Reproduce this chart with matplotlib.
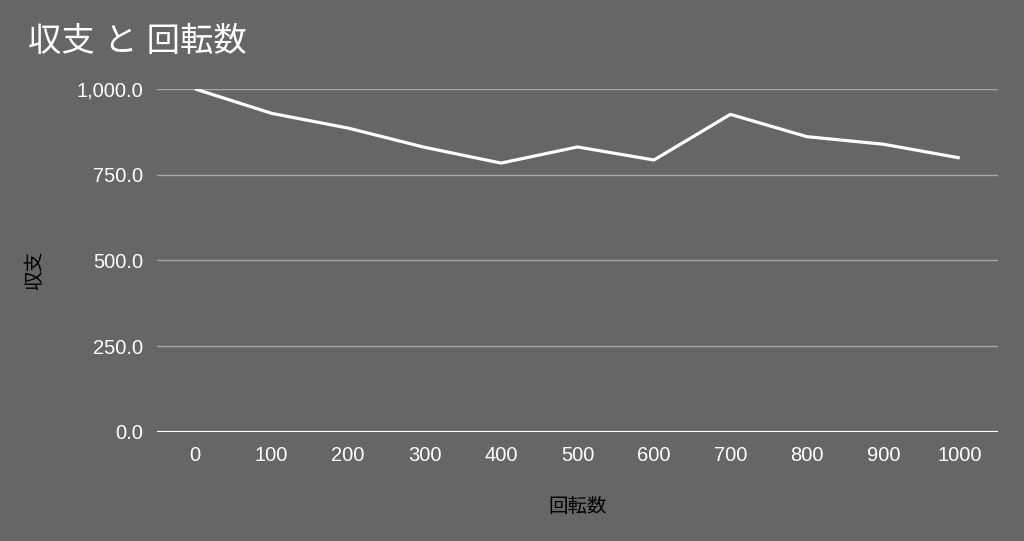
import matplotlib.pyplot as plt
from matplotlib.ticker import FuncFormatter

plt.rcParams['font.family'] = ['Liberation Sans', 'Noto Sans CJK JP', 'DejaVu Sans']

# data
spins = ['0', '100', '200', '300', '400', '500', '600', '700', '800', '900', '1000']
balance = [1000, 929, 886, 830, 784, 831, 793, 926, 861, 839, 799]
yticks = [0, 250, 500, 750, 1000]

bg = '#666666'
fig = plt.figure(figsize=(10.24, 5.41), dpi=100, facecolor=bg)
ax = fig.add_axes([0.1533, 0.2015, 0.8213, 0.634])
ax.set_facecolor(bg)

x = list(range(len(spins)))
ax.plot(x, balance, color='white', lw=2.3, solid_capstyle='butt', zorder=3)

ax.set_xlim(-0.5, len(spins) - 0.5)
ax.set_ylim(0, 1000)
ax.set_xticks(x)
ax.set_xticklabels(spins)
ax.set_yticks(yticks)
ax.yaxis.set_major_formatter(FuncFormatter(lambda v, p: f'{v:,.1f}'))

ax.grid(axis='y', color='#a8a8a8', lw=1)
ax.axhline(0, color='white', lw=1.6, zorder=2)
for s in ax.spines.values():
    s.set_visible(False)
ax.tick_params(length=0, colors='white', labelsize=14.5)
ax.tick_params(axis='x', pad=10)
ax.tick_params(axis='y', pad=10)

ax.set_xlabel('回転数', color='black', fontsize=14, labelpad=24)
ax.set_ylabel('収支', color='black', fontsize=14)
ax.yaxis.set_label_coords(-0.134, 0.47)

fig.text(0.027, 0.922, '収支 と 回転数', color='white', fontsize=24, va='center', ha='left')

fig.savefig('out.png', dpi=100, facecolor=bg)
